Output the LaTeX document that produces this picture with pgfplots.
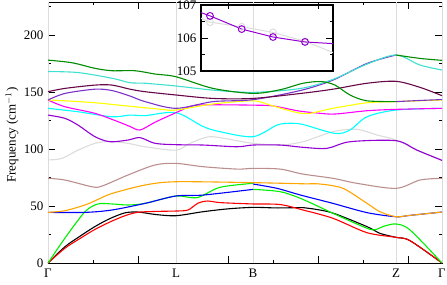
\documentclass[border=0pt]{standalone}
\usepackage{fontspec}
\setmainfont{Liberation Serif}
\usepackage{pgfplots}
\pgfplotsset{compat=1.18}
\definecolor{cgreen}{RGB}{0,240,0}
\definecolor{cyellow}{RGB}{255,255,0}
\definecolor{crosy}{RGB}{188,143,143}
\definecolor{cgray}{RGB}{220,220,220}
\definecolor{cviolet}{RGB}{148,0,211}
\definecolor{ccyan}{RGB}{0,255,255}
\definecolor{cmagenta}{RGB}{255,0,255}
\definecolor{corange}{RGB}{255,165,0}
\definecolor{cindigo}{RGB}{124,50,200}
\definecolor{cmaroon}{RGB}{103,7,72}
\definecolor{cturq}{RGB}{64,224,208}
\definecolor{cgreenf}{RGB}{0,139,0}
\begin{document}
\fontsize{13pt}{15pt}\selectfont
\begin{tikzpicture}
\begin{axis}[
  scale only axis, width=394pt, height=261pt,
  at={(0,0)}, anchor=south west,
  xmin=0, xmax=394, ymin=0, ymax=229,
  axis line style={line width=0.9pt},
  tick style={line width=0.8pt, black},
  tick align=inside,
  xtick={0,90,180,270,360}, minor xtick={45,225,315}, xticklabels={},
  extra x ticks={0,128,205,348,394},
  extra x tick labels={Γ,L,B,Z,Γ},
  extra x tick style={grid=major, major tick length=0pt,
     major grid style={color=cgray, line width=0.9pt}},
  ytick={0,50,...,200}, minor ytick={25,75,...,225},
  major tick length=7pt, minor tick length=3.5pt,
  /pgf/number format/assume math mode=true,
  ylabel={Frequency (cm$^{-1}$)},
  ylabel style={at={(rel axis cs:-0.0914,0.49)}, anchor=center},
  xticklabel style={yshift=-1pt},
  every axis plot/.append style={line width=1.1pt, smooth, no markers},
]
% gray
\addplot[cgray] coordinates {(0,90.4) (14,91.8) (30,99) (47,105) (62,106.6) (80,105) (97,102) (128,99) (142,105) (162,110.8) (189,107.3) (205,105) (232,103.5) (255,106.4) (285,115.2) (309,117.3) (329,112.3) (348,107.9) (369,99) (394,90.5)};
% acoustic black
\addplot[black] coordinates {(0,0) (17,14.3) (32,23.5) (47,32) (62,39) (77,44) (90,44.7) (108,42.5) (128,41.5) (155,45) (180,47.5) (205,48.8) (230,48.3) (255,48.6) (265,47.5) (285,43.8) (319,31.9) (332,26) (348,22.5) (362,19.6) (394,0)};
% red
\addplot[red] coordinates {(0,0) (17,13) (32,21.5) (47,29.5) (62,36) (77,41.5) (90,44.5) (110,45.3) (128,45.6) (140,46.5) (150,52.5) (160,54.4) (172,53) (205,51.8) (232,51.3) (255,46.5) (285,39.2) (319,26.6) (348,22.5) (362,19.6) (394,0)};
% green acoustic
\addplot[cgreen] coordinates {(0,0) (17,21.9) (37,45) (50,51.8) (64,51.8) (80,50.9) (97,52.3) (128,58.8) (149,57.3) (172,66.4) (205,69.9)};
\addplot[cgreen] coordinates {(205,64.6) (232,62.6) (253,56.5) (285,43.6) (309,34.2) (325,29) (336,32.3) (348,34.2) (362,29) (394,0)};
% blue
\addplot[blue] coordinates {(0,44.4) (37,44.4) (64,46.5) (97,52.3) (128,58.8) (155,59.6) (205,64.6)};
\addplot[blue] coordinates {(205,69.3) (229,65.5) (253,59.5) (285,52.3) (319,44.2) (348,40.6) (362,41.8) (394,44.7)};
% orange
\addplot[corange] coordinates {(0,44.4) (17,45.9) (37,50.9) (50,55.8) (64,61) (97,68.4) (128,71.3) (205,70.5) (255,69.5) (272,69.3) (295,65.5) (319,52.3) (332,45) (348,40.6) (362,41.8) (394,44.7)};
% rosybrown
\addplot[crosy] coordinates {(0,74.3) (17,72.8) (44,66.9) (54,67.5) (80,77.2) (107,86) (128,87.4) (155,84.5) (189,82.4) (205,83) (232,82.4) (255,78) (285,74.3) (309,69.9) (348,65.5) (372,72.8) (394,74.3)};
% violet lower
\addplot[cviolet] coordinates {(0,129.8) (17,126.9) (30,121) (47,110.8) (62,106.4) (80,107.9) (92,110) (107,105) (128,103.8) (155,103.5) (189,102) (205,103.5) (232,103.5) (255,101.5) (279,100.6) (302,106.4) (348,107.3) (369,99) (394,90)};
% cyan
\addplot[ccyan] coordinates {(0,135.7) (30,132.7) (64,128.3) (82,129.8) (97,129.3) (128,131.9) (155,119.8) (172,115.2) (205,110.8) (229,121) (242,122.6) (255,121.5) (287,113.7) (302,116.7) (319,128.3) (348,134.2) (394,135.7)};
% magenta
\addplot[cmagenta] coordinates {(0,143) (17,137.1) (47,131.3) (70,124) (82,119.8) (92,116.7) (107,123.5) (128,131.9) (145,138) (165,138.8) (205,138.5) (225,137.8) (250,133.5) (270,131.5) (287,130.7) (319,133.6) (348,134.8) (394,135.7)};
% yellow
\addplot[cyellow] coordinates {(0,143) (17,142.3) (47,140.6) (80,137.7) (114,134.8) (128,134.2) (165,139.5) (205,142.3) (222,138.6) (239,134.2) (252,131.5) (262,131.3) (285,135.7) (319,140.6) (348,141.6) (394,143)};
% indigo upper
\addplot[cindigo] coordinates {(0,143) (17,148.8) (47,152.5) (64,151.3) (82,146.5) (97,141.6) (128,135.7) (165,141.6) (205,143.3) (253,151.5) (285,160.5) (319,175.1) (348,182.5)};
\addplot[cindigo] coordinates {(348,141.6) (372,142.6) (394,143.4)};
% maroon
\addplot[cmaroon] coordinates {(0,150.3) (17,153.2) (47,156.1) (64,156.1) (82,152.5) (97,150.3) (128,147.4) (165,144.4) (205,144.4) (253,148.8) (285,152.5) (319,157.7) (348,159.4) (372,154.1) (394,146.8)};
% turquoise
\addplot[cturq] coordinates {(0,168) (30,167.1) (64,162.1) (82,158.2) (97,157.7) (128,155.3) (165,151.7) (205,149.7) (253,153.2) (285,161.1) (319,174.5) (348,182.5) (372,173.7) (394,169.3)};
% forest green
\addplot[cgreenf] coordinates {(0,178) (24,175.7) (47,170.8) (64,168.7) (87,168.7) (107,165.8) (128,163.4) (165,153.2) (205,148.8) (232,152) (255,157.7) (273,159.2) (287,156.1) (302,147.4) (319,142.3) (348,141.6)};
\addplot[cgreenf] coordinates {(348,182.5) (372,179.5) (394,177.8)};
\coordinate (O) at (rel axis cs:0,0);
\end{axis}
\begin{axis}[
  scale only axis, width=132pt, height=66pt,
  at={(153pt,192pt)}, anchor=south west,
  xmin=0, xmax=132, ymin=105, ymax=107,
  axis line style={line width=1.2pt},
  tick style={line width=0.8pt, black},
  tick align=inside,
  xtick=\empty, minor xtick={60},
  ytick={105,106,107}, minor ytick={105.5,106.5},
  major tick length=7pt, minor tick length=3.5pt,
  /pgf/number format/assume math mode=true,
  yticklabel style={/pgf/number format/.cd, fixed, 1000 sep={}},
]
\addplot[cgray, line width=1pt, mark=o, mark size=3.4pt, mark indices={2,3,4,5}, mark options={line width=0.9pt}] coordinates {(0,106.6) (9,106.48) (40.7,106.34) (72,106.17) (104,105.9) (132,105.56)};
\addplot[cviolet, line width=1pt, mark=o, mark size=3.4pt, mark indices={2,3,4,5}, mark options={line width=1pt}] coordinates {(0,106.77) (9,106.67) (40.7,106.27) (72,106.03) (104,105.88) (132,105.83)};
\end{axis}
\pgfresetboundingbox
\path (O) ++(-48pt,-21pt) rectangle ++(447pt,284pt);
\end{tikzpicture}
\end{document}
